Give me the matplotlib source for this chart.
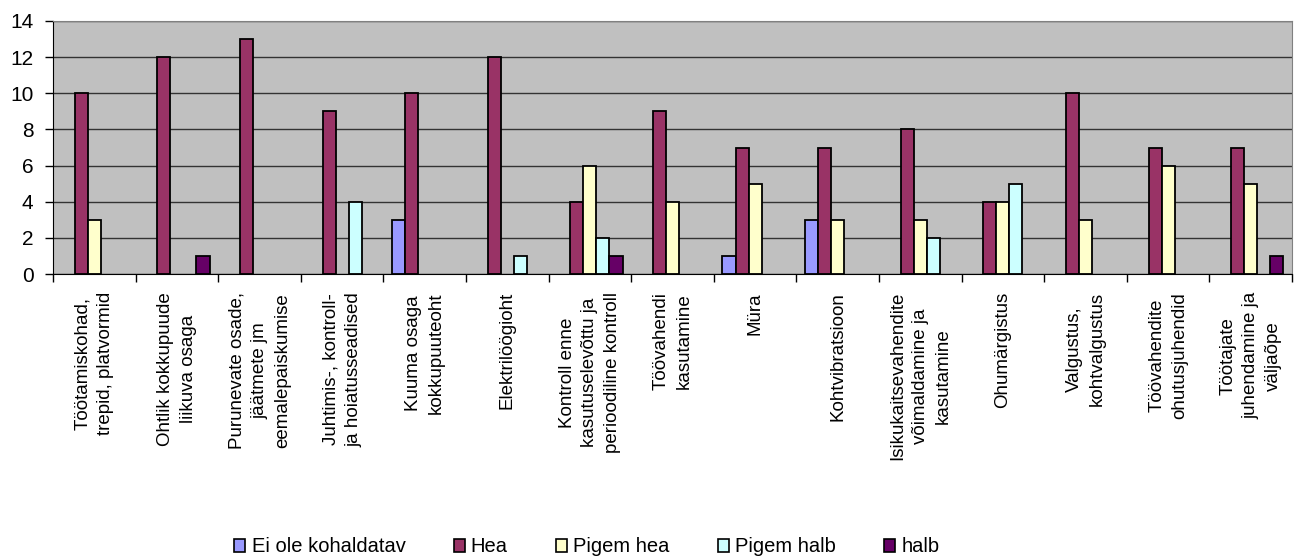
import numpy as np
import matplotlib
matplotlib.use("Agg")
import matplotlib.pyplot as plt
from matplotlib.ticker import FixedLocator, NullFormatter
from matplotlib import font_manager

plt.rcParams['font.family'] = ['Liberation Sans', 'DejaVu Sans']

categories = [
    "Töötamiskohad,\ntrepid, platvormid",
    "Ohtlik kokkupuude\nliikuva osaga",
    "Purunevate osade,\njäätmete jm\neemalepaiskumise",
    "Juhtimis-, kontroll-\nja hoiatusseadised",
    "Kuuma osaga\nkokkupuuteoht",
    "Elektrilöögioht",
    "Kontroll enne\nkasutuselevõttu ja\nperioodiline kontroll",
    "Töövahendi\nkasutamine",
    "Müra",
    "Kohtvibratsioon",
    "Isikukaitsevahendite\nvõimaldamine ja\nkasutamine",
    "Ohumärgistus",
    "Valgustus,\nkohtvalgustus",
    "Töövahendite\nohutusjuhendid",
    "Töötajate\njuhendamine ja\nväljaõpe",
]

ei_ole = [0, 0, 0, 0, 3, 0, 0, 0, 1, 3, 0, 0, 0, 0, 0]
hea = [10, 12, 13, 9, 10, 12, 4, 9, 7, 7, 8, 4, 10, 7, 7]
pigem_hea = [3, 0, 0, 0, 0, 0, 6, 4, 5, 3, 3, 4, 3, 6, 5]
pigem_halb = [0, 0, 0, 4, 0, 1, 2, 0, 0, 0, 2, 5, 0, 0, 0]
halb = [0, 1, 0, 0, 0, 0, 1, 0, 0, 0, 0, 0, 0, 0, 1]

series = [
    ("Ei ole kohaldatav", ei_ole, "#9999FF"),
    ("Hea", hea, "#993366"),
    ("Pigem hea", pigem_hea, "#FFFFCC"),
    ("Pigem halb", pigem_halb, "#CCFFFF"),
    ("halb", halb, "#660066"),
]

fig = plt.figure(figsize=(13, 5.59), dpi=100)
ax = fig.add_axes([53 / 1300, 1 - 274 / 559, 1239 / 1300, 253 / 559])
ax.set_facecolor("#C0C0C0")

x = np.arange(len(categories))
w = 0.158
for i, (name, vals, col) in enumerate(series):
    vals = np.array(vals)
    keep = vals > 0  # Excel draws nothing for zero values
    ax.bar(x[keep] + (i - 2) * w, vals[keep], w, color=col, edgecolor="black",
           linewidth=1.3, label=name, zorder=3)

ax.set_xlim(-0.5, len(categories) - 0.5)
ax.set_ylim(0, 14)
ax.set_yticks(range(0, 15, 2))
ax.yaxis.grid(True, color="#333333", linewidth=1, zorder=0)
ax.tick_params(axis="y", labelsize=15, length=6, width=1, pad=8, direction="out")

ax.set_xticks(x)
ax.set_xticklabels(categories, rotation=90, fontsize=13.5, linespacing=1.45,
                   ha="center", va="top", multialignment="center")
ax.tick_params(axis="x", which="major", length=0, pad=13)
ax.xaxis.set_minor_locator(FixedLocator(np.arange(-0.5, len(categories), 1)))
ax.xaxis.set_minor_formatter(NullFormatter())
ax.tick_params(axis="x", which="minor", length=6, width=1)

for s in ["top", "right"]:
    ax.spines[s].set_color("#808080")
for s in ["left", "bottom"]:
    ax.spines[s].set_color("black")

# legend text in the original is a narrow face
names = {f.name for f in font_manager.fontManager.ttflist}
leg_font = "Liberation Sans Narrow" if "Liberation Sans Narrow" in names else "Liberation Sans"
leg_size = 17 if leg_font == "Liberation Sans Narrow" else 14.5

leg = fig.legend(loc="center", bbox_to_anchor=(587 / 1300, 1 - 547 / 559), ncol=5,
                 frameon=False, prop={"family": leg_font, "size": leg_size},
                 handlelength=0.55, handleheight=0.6,
                 handletextpad=0.3, columnspacing=2.4, borderpad=0)
for h in leg.legend_handles:
    h.set_linewidth(1.2)

fig.savefig("out.png", dpi=100)
